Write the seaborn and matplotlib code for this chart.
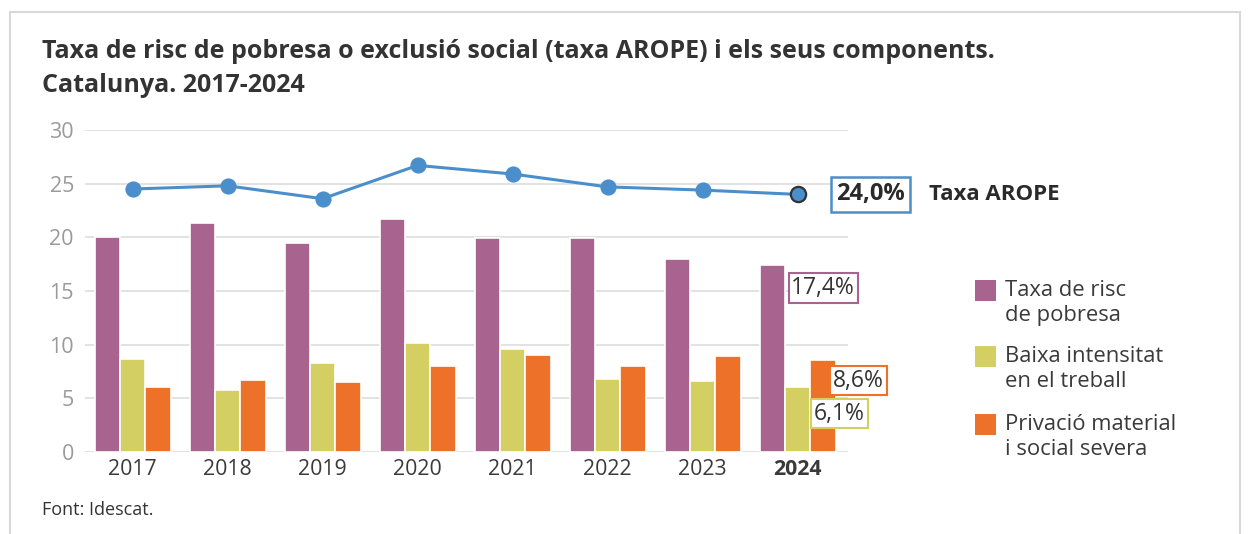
import matplotlib
matplotlib.use("Agg")
import matplotlib.pyplot as plt
from matplotlib.patches import Rectangle
import seaborn as sns
import pandas as pd

years = ["2017", "2018", "2019", "2020", "2021", "2022", "2023", "2024"]
arope = [24.5, 24.8, 23.6, 26.7, 25.9, 24.7, 24.4, 24.0]
pobresa = [20.0, 21.3, 19.5, 21.7, 19.9, 19.9, 18.0, 17.4]
baixa_int = [8.7, 5.8, 8.3, 10.2, 9.6, 6.8, 6.6, 6.1]
privacio = [6.1, 6.7, 6.5, 8.0, 9.0, 8.0, 8.9, 8.6]

series_names = ["Taxa de risc\nde pobresa", "Baixa intensitat\nen el treball",
                "Privació material\ni social severa"]
colors = ["#A8648F", "#D3CF63", "#EE7129"]
line_color = "#4A8FCB"

sns.set_style("white")
plt.rcParams["font.family"] = ["Open Sans", "DejaVu Sans"]

df = pd.DataFrame({"year": years * 3,
                   "value": pobresa + baixa_int + privacio,
                   "serie": [series_names[0]] * 8 + [series_names[1]] * 8 + [series_names[2]] * 8})
df_line = pd.DataFrame({"year": years, "arope": arope})

fig = plt.figure(figsize=(12.51, 5.34), dpi=100)
ax = fig.add_axes([85 / 1251, 82 / 534, 763 / 1251, 322 / 534])

sns.barplot(data=df, x="year", y="value", hue="serie", hue_order=series_names,
            palette=colors, width=0.8, edgecolor="white", linewidth=1.2,
            saturation=1, legend=False, ax=ax, zorder=3)
sns.pointplot(data=df_line, x="year", y="arope", color=line_color,
              markers="o", markersize=10, linewidth=2.2, ax=ax, zorder=4)
# last point with dark edge
ax.plot([7], [arope[-1]], "o", color=line_color, markersize=11,
        markeredgecolor="#333333", markeredgewidth=1.6, zorder=6)

ax.set_ylim(0, 30)
ax.set_xlim(-0.5, 7.53)
ax.set_yticks([0, 5, 10, 15, 20, 25, 30])
ax.yaxis.grid(True, color="#DDDDDD", linewidth=1.2, zorder=0)
ax.set_axisbelow(True)
for s in ax.spines.values():
    s.set_visible(False)
ax.set_xlabel("")
ax.set_ylabel("")
ax.tick_params(axis="y", labelsize=15.5, labelcolor="#9A9A9A", length=0, pad=8)
ax.tick_params(axis="x", labelsize=15.3, labelcolor="#3A3A3A", length=0, pad=5)
xl = ax.get_xticklabels()
xl[-1].set_fontweight("bold")

# annotations
ax.text(7.77, 24.0, "24,0%", ha="center", va="center", fontsize=17, fontweight="bold",
        color="#2A2A2A", clip_on=False,
        bbox=dict(boxstyle="square,pad=0.22", fc="white", ec=line_color, lw=1.8))
ax.text(8.38, 24.0, "Taxa AROPE", ha="left", va="center", fontsize=16,
        fontweight="bold", color="#2A2A2A", clip_on=False)
ax.text(7.27, 15.3, "17,4%", ha="center", va="center", fontsize=16.5, color="#333333",
        clip_on=False, zorder=7,
        bbox=dict(boxstyle="square,pad=0.12", fc="white", ec=colors[0], lw=1.5))
ax.text(7.64, 6.65, "8,6%", ha="center", va="center", fontsize=16.5, color="#333333",
        clip_on=False, zorder=7,
        bbox=dict(boxstyle="square,pad=0.12", fc="white", ec=colors[2], lw=1.5))
ax.text(7.44, 3.57, "6,1%", ha="center", va="center", fontsize=16.5, color="#333333",
        clip_on=False, zorder=7,
        bbox=dict(boxstyle="square,pad=0.12", fc="white", ec=colors[1], lw=1.5))

# legend drawn by hand
leg_y = [290, 356, 424]
for name, col, y in zip(series_names, colors, leg_y):
    fig.add_artist(Rectangle((975 / 1251, (534 - y - 11) / 534), 21 / 1251, 21 / 534,
                             transform=fig.transFigure, fc=col, ec="none"))
    fig.text(1005 / 1251, (534 - y + 10) / 534, name, ha="left", va="top",
             fontsize=15.8, color="#3A3A3A", linespacing=1.28)

# title and source
fig.text(42 / 1251, 1 - 52 / 534, "Taxa de risc de pobresa o exclusió social (taxa AROPE) i els seus components.",
         ha="left", va="center", fontsize=18, fontweight="bold", color="#333333")
fig.text(42 / 1251, 1 - 85 / 534, "Catalunya. 2017-2024",
         ha="left", va="center", fontsize=18, fontweight="bold", color="#333333")
fig.text(42 / 1251, 1 - 510 / 534, "Font: Idescat.", ha="left", va="center",
         fontsize=13, color="#333333")

# outer frame
fig.add_artist(Rectangle((10 / 1251, -0.1), 1230 / 1251, (534 - 12) / 534 + 0.1,
                         transform=fig.transFigure, fill=False, ec="#D8D8D8", lw=1.5))

fig.savefig("out.png", dpi=100)
